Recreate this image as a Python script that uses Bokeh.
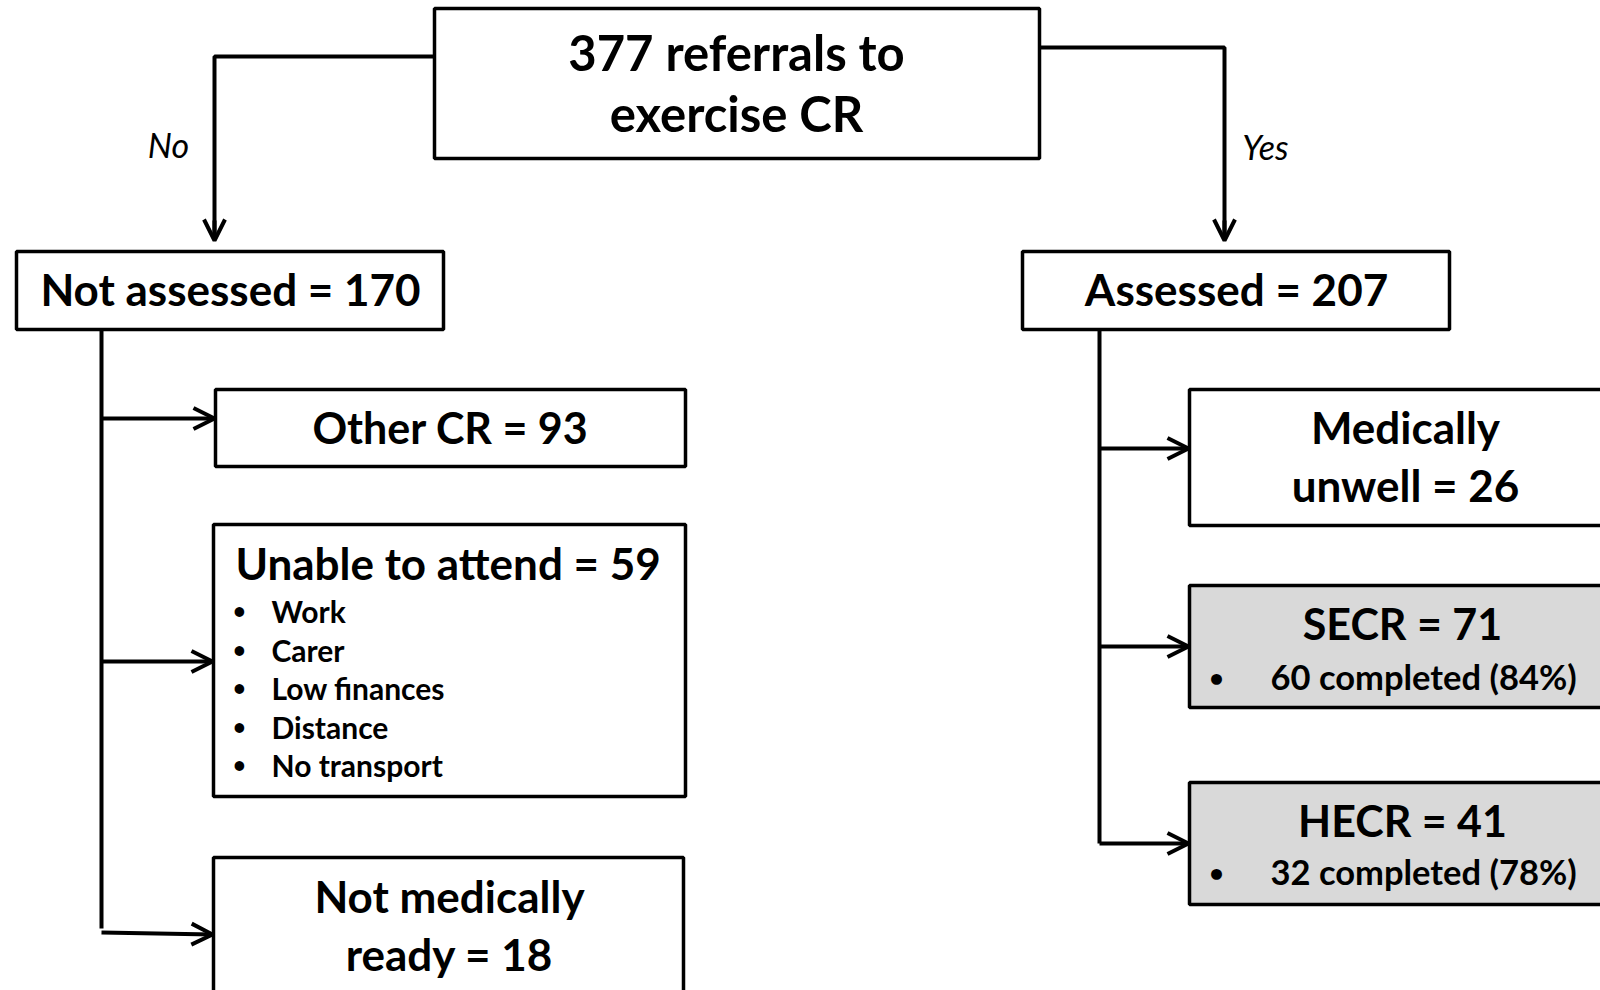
from bokeh.plotting import figure
from bokeh.models import Range1d, Arrow, OpenHead
from bokeh.core.properties import value
from bokeh.embed import file_html
from bokeh.resources import INLINE

# ---------------- data ----------------
total_referrals = 377
branch_labels = ["No", "Yes"]
level1_names = ["Not assessed", "Assessed"]
level1_counts = [170, 207]

not_assessed_names = ["Other CR", "Unable to attend", "Not medically ready"]
not_assessed_counts = [93, 59, 18]
unable_reasons = ["Work", "Carer", "Low finances", "Distance", "No transport"]

assessed_names = ["Medically unwell", "SECR", "HECR"]
assessed_counts = [26, 71, 41]
completed_counts = [None, 60, 32]
completed_pct = [None, 84, 78]

# ---------------- layout (screen-pixel coordinates) ----------------
FONT = value("Lato")
LW = 4

p = figure(width=1600, height=990, x_range=Range1d(0, 1600), y_range=Range1d(990, 0),
           output_backend="svg", toolbar_location=None, min_border=0)
p.axis.visible = False
p.grid.visible = False
p.outline_line_color = None
p.background_fill_color = "white"
p.border_fill_color = "white"

# boxes: left, right, top, bottom, fill
box_l = [434, 16, 1022, 215, 213, 213, 1189, 1189, 1189]
box_r = [1039, 443, 1449, 685, 685, 683, 1640, 1640, 1640]
box_t = [8, 251, 251, 389, 524, 857, 389, 585, 782]
box_b = [158, 329, 329, 466, 796, 1020, 525, 707, 904]
box_f = ["white", "white", "white", "white", "white", "white", "white", "#d9d9d9", "#d9d9d9"]
p.quad(left=box_l, right=box_r, top=box_t, bottom=box_b, fill_color=box_f,
       line_color="black", line_width=3.5)

# connector lines (no heads)
p.multi_line(xs=[[434, 214, 214], [1039, 1224, 1224], [101, 101], [1099, 1099]],
             ys=[[56, 56, 238], [47, 47, 238], [329, 928], [329, 843]],
             line_color="black", line_width=LW)

# arrows
arrows = [
    (214, 220, 214, 240),
    (1224, 220, 1224, 240),
    (101, 418, 214, 418),
    (101, 661, 212, 661),
    (101, 932, 212, 934),
    (1099, 448, 1188, 448),
    (1099, 646, 1188, 646),
    (1099, 843, 1188, 843),
]
for x0, y0, x1, y1 in arrows:
    p.add_layout(Arrow(end=OpenHead(size=21, line_width=LW, line_color="black"),
                       x_start=x0, y_start=y0, x_end=x1, y_end=y1,
                       line_color="black", line_width=LW))


def txt(x, y, s, size, align="center", style="bold"):
    p.text(x=[x], y=[y], text=[s], text_font=FONT, text_font_size=f"{size}px",
           text_font_style=style, text_align=align, text_baseline="middle",
           text_color="black")


# top box
txt(736, 51, f"{total_referrals} referrals to", 49)
txt(736, 112, "exercise CR", 49)

# branch labels
txt(168, 144, branch_labels[0], 34, style="italic")
txt(1265, 146, branch_labels[1], 34, style="italic")

# level 1
txt(230, 288, f"{level1_names[0]} = {level1_counts[0]}", 44)
txt(1236, 288, f"{level1_names[1]} = {level1_counts[1]}", 44)

# not assessed
txt(450, 427, f"{not_assessed_names[0]} = {not_assessed_counts[0]}", 43)
txt(235, 562, f"{not_assessed_names[1]} = {not_assessed_counts[1]}", 44, align="left")
bullet_y = [610, 649, 687, 726, 764]
for yy, r in zip(bullet_y, unable_reasons):
    txt(239, yy, "\u2022", 22, align="center")
    txt(271, yy, r, 30, align="left")
nm_words = not_assessed_names[2].rsplit(" ", 1)
txt(449, 895, nm_words[0], 44)
txt(449, 953, f"{nm_words[1]} = {not_assessed_counts[2]}", 44)

# assessed
mu_words = assessed_names[0].split(" ")
txt(1405, 426, mu_words[0], 44)
txt(1405, 484, f"{mu_words[1]} = {assessed_counts[0]}", 44)
for name, cnt, comp, pct, ty, by in zip(assessed_names[1:], assessed_counts[1:],
                                          completed_counts[1:], completed_pct[1:],
                                          [623, 820], [676, 871]):
    txt(1402, ty, f"{name} = {cnt}", 43)
    txt(1216, by, "\u2022", 25, align="center")
    txt(1270, by, f"{comp} completed ({pct}%)", 34.5, align="left")

open("out.html", "w").write(file_html(p, INLINE))
